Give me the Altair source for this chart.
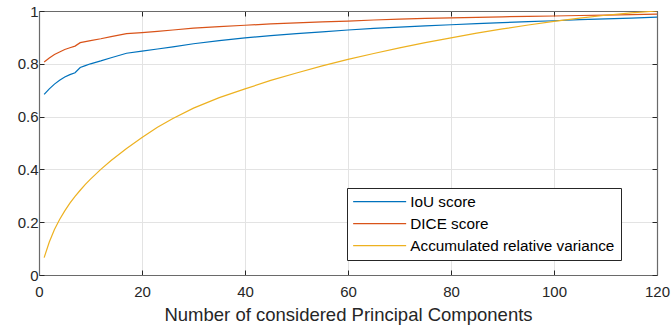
import altair as alt
import pandas as pd

# Number of principal components kept
components = [1, 2, 3, 4, 5, 6, 7, 8, 9, 10, 12, 14, 17, 20, 23, 26, 30, 35, 40,
              45, 50, 55, 60, 65, 70, 75, 80, 85, 90, 95, 100, 105, 110, 115, 120]

iou_score = [0.684, 0.705, 0.723, 0.738, 0.750, 0.759, 0.766, 0.786, 0.793, 0.800,
             0.811, 0.823, 0.840, 0.848, 0.856, 0.864, 0.876, 0.888, 0.898,
             0.907, 0.914, 0.921, 0.928, 0.934, 0.939, 0.944, 0.948, 0.952,
             0.956, 0.960, 0.963, 0.967, 0.970, 0.973, 0.977]

dice_score = [0.807, 0.822, 0.835, 0.845, 0.854, 0.861, 0.867, 0.880, 0.884, 0.888,
              0.895, 0.903, 0.914, 0.918, 0.923, 0.928, 0.935, 0.941, 0.946,
              0.951, 0.955, 0.959, 0.962, 0.966, 0.969, 0.972, 0.974, 0.976,
              0.978, 0.980, 0.981, 0.983, 0.984, 0.986, 0.988]

relative_variance = [0.066, 0.125, 0.172, 0.210, 0.243, 0.272, 0.298, 0.321, 0.343, 0.363,
                     0.400, 0.434, 0.479, 0.521, 0.560, 0.593, 0.632, 0.672, 0.705,
                     0.737, 0.765, 0.792, 0.817, 0.839, 0.860, 0.880, 0.898, 0.916,
                     0.932, 0.947, 0.961, 0.973, 0.984, 0.993, 1.000]

series_names = ["IoU score", "DICE score", "Accumulated relative variance"]
series_colors = ["#0072BD", "#D95319", "#EDB120"]

x_ticks = [0, 20, 40, 60, 80, 100, 120]
y_ticks = [0, 0.2, 0.4, 0.6, 0.8, 1]

rows = []
for name, values in zip(series_names, [iou_score, dice_score, relative_variance]):
    for k, v in zip(components, values):
        rows.append({"pc": k, "value": v, "series": name})
df = pd.DataFrame(rows)

FONT = "Liberation Sans"
AXIS_GRAY = "#6a6a6a"
TEXT = "#262626"
inward = alt.ExprRef(expr="-5")

x_scale = alt.Scale(domain=[0, 120], nice=False, zero=False)
y_scale = alt.Scale(domain=[0, 1], nice=False)

lines = alt.Chart(df).mark_line(strokeWidth=1.2, clip=True).encode(
    x=alt.X("pc:Q", scale=x_scale, axis=alt.Axis(
        orient="bottom", values=x_ticks, title="Number of considered Principal Components",
        labelFlush=False, labelFont=FONT, labelFontSize=15, labelColor=TEXT,
        labelPadding=14, titleFont=FONT, titleFontSize=18.5, titleFontWeight="normal",
        titleColor=TEXT, titlePadding=6, tickSize=inward, tickColor=TEXT,
        domainColor=AXIS_GRAY, domainWidth=1.2, grid=True, gridColor="#e3e3e3",
        gridWidth=1)),
    y=alt.Y("value:Q", scale=y_scale, axis=alt.Axis(
        orient="left", values=y_ticks, format="~g", title=None,
        labelFont=FONT, labelFontSize=15, labelColor=TEXT, labelPadding=6,
        tickSize=inward, tickColor=TEXT, domainColor=AXIS_GRAY, domainWidth=1.2,
        grid=True, gridColor="#e3e3e3", gridWidth=1)),
    stroke=alt.Stroke("series:N", sort=series_names,
                      scale=alt.Scale(domain=series_names, range=series_colors),
                      legend=alt.Legend(
                          title=None, orient="none", legendX=308, legendY=177,
                          symbolType="M-5.3,0H5.3", symbolSize=100, symbolStrokeWidth=1.2,
                          symbolOffset=19, labelOffset=23, labelFont=FONT,
                          labelFontSize=15.3, labelColor="#000", labelLimit=400,
                          padding=6, rowPadding=6, strokeColor="#262626",
                          fillColor="white", cornerRadius=0)),
)

# Top and right edges of the box, with inward ticks
frame = alt.Chart(df).mark_line(strokeOpacity=0).encode(
    x=alt.X("pc:Q", scale=x_scale, axis=alt.Axis(
        orient="top", values=x_ticks, labels=False, title=None, grid=False,
        tickSize=inward, tickColor=TEXT, domainColor=AXIS_GRAY, domainWidth=1.2)),
    y=alt.Y("value:Q", scale=y_scale, axis=alt.Axis(
        orient="right", values=y_ticks, labels=False, title=None, grid=False,
        tickSize=inward, tickColor=TEXT, domainColor=AXIS_GRAY, domainWidth=1.2)),
    detail="series:N",
)

chart = alt.layer(lines, frame).resolve_axis(x="independent", y="independent").properties(
    width=618, height=264,
    padding={"left": 39, "top": 11, "right": 15, "bottom": 53},
    autosize="none",
    background="white",
).configure_view(stroke=None)

chart.save("out.html", embed_options={"renderer": "svg", "actions": False})
